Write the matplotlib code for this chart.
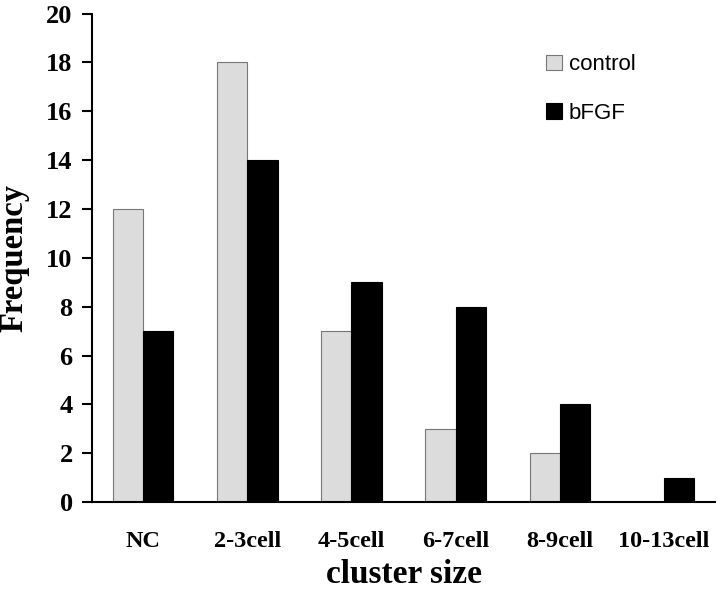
import numpy as np
import matplotlib; matplotlib.use("Agg")
import matplotlib.pyplot as plt

categories = ["NC", "2-3cell", "4-5cell", "6-7cell", "8-9cell", "10-13cell"]
control = [12, 18, 7, 3, 2, 0]
bfgf = [7, 14, 9, 8, 4, 1]

SERIF = "Liberation Serif"
fig = plt.figure(figsize=(7.2, 5.9), dpi=100)
ax = fig.add_axes([0.128, 0.149, 0.865, 0.828])
x = np.arange(len(categories))
w = 0.29
ax.bar(x - w/2, control, w, color="#dcdcdc", edgecolor="#777777", linewidth=0.8, label="control")
ax.bar(x + w/2, bfgf, w, color="black", edgecolor="black", linewidth=0.8, label="bFGF")

ax.set_xlim(-0.49, 5.49)
ax.set_ylim(0, 20)
ax.set_yticks(range(0, 21, 2))
ax.set_xticks(x)
ax.set_xticklabels(categories)
for s in ("top", "right"):
    ax.spines[s].set_visible(False)
for s in ("left", "bottom"):
    ax.spines[s].set_linewidth(1.5)
ax.tick_params(axis="y", direction="out", length=7, width=1.5, pad=7)
ax.tick_params(axis="x", length=0, pad=21)
for lab in ax.get_yticklabels():
    lab.set_fontfamily(SERIF); lab.set_fontweight("bold"); lab.set_fontsize(19)
for lab in ax.get_xticklabels():
    lab.set_fontfamily(SERIF); lab.set_fontweight("bold"); lab.set_fontsize(17.5)

ax.set_xlabel("cluster size", fontfamily=SERIF, fontweight="bold", fontsize=24, labelpad=5)
ax.set_ylabel("Frequency", fontfamily=SERIF, fontweight="bold", fontsize=23.5, labelpad=12)

leg = ax.legend(loc="upper left", bbox_to_anchor=(0.715, 0.935), frameon=False,
                prop={"family": "Liberation Sans", "size": 16},
                handlelength=0.72, handleheight=0.72, handletextpad=0.3, labelspacing=1.25,
                borderaxespad=0)

fig.savefig("out.png", dpi=100)
